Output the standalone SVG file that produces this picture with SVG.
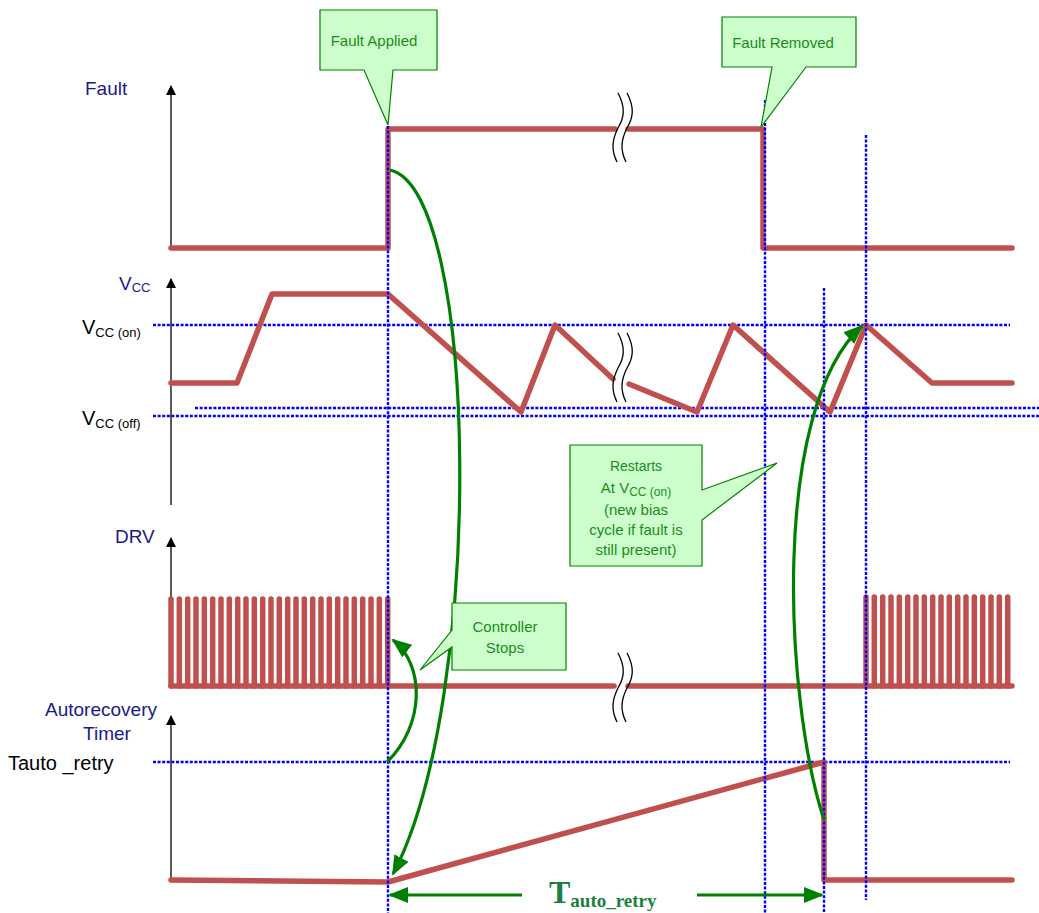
<svg xmlns="http://www.w3.org/2000/svg" width="1039" height="913" viewBox="0 0 1039 913">
<style>
.ax{stroke:#000;stroke-width:1.3;fill:none}
.sig{stroke:#c0504d;stroke-width:5.5;fill:none;stroke-linejoin:round;stroke-linecap:round}
.dot{stroke:#0000ff;stroke-width:2.4;stroke-dasharray:3,1.6;fill:none}
.gr{stroke:#008000;stroke-width:3.2;fill:none}
.brk{stroke:#000;stroke-width:1.3;fill:none}
.co{fill:#ccffcc;stroke:#008000;stroke-width:1.2}
.ct{font-family:"Liberation Sans",Arial,sans-serif;fill:#1a8c1a;text-anchor:middle}
.lb{font-family:"Liberation Sans",Arial,sans-serif;fill:#1a1a8c;font-size:19px}
.bk{font-family:"Liberation Sans",Arial,sans-serif;fill:#000;font-size:20px}
</style>
<defs>
<marker id="ah" markerWidth="10" markerHeight="10" refX="9" refY="5" orient="auto" markerUnits="userSpaceOnUse">
<path d="M0,0 L10,5 L0,10 z" fill="#000"/>
</marker>
<marker id="gah" markerWidth="20" markerHeight="16" refX="18" refY="8" orient="auto" markerUnits="userSpaceOnUse">
<path d="M0,0 L20,8 L0,16 z" fill="#008000"/>
</marker>
</defs>
<rect width="1039" height="913" fill="#fff"/>

<g id="axes">
<line class="ax" x1="171" y1="250" x2="171" y2="86" marker-end="url(#ah)"/>
<line class="ax" x1="171" y1="505" x2="171" y2="279" marker-end="url(#ah)"/>
<line class="ax" x1="171" y1="686" x2="171" y2="538" marker-end="url(#ah)"/>
<line class="ax" x1="171" y1="880" x2="171" y2="716" marker-end="url(#ah)"/>
</g>

<g id="labels">
<text class="lb" x="85" y="95">Fault</text>
<text class="lb" x="119" y="290">V<tspan font-size="13" dy="2">CC</tspan></text>
<text class="bk" x="82" y="334">V<tspan font-size="13" dy="3">CC (on)</tspan></text>
<text class="bk" x="82" y="425">V<tspan font-size="13" dy="3">CC (off)</tspan></text>
<text class="lb" x="115" y="543">DRV</text>
<text class="lb" x="101" y="716" text-anchor="middle">Autorecovery</text>
<text class="lb" x="107" y="740" text-anchor="middle">Timer</text>
<text class="bk" x="8" y="770">Tauto _retry</text>
</g>

<g id="guides">
<line class="dot" x1="153" y1="325" x2="1010" y2="325"/>
<line class="dot" x1="153" y1="416" x2="1039" y2="416"/>
<line class="dot" x1="195" y1="408" x2="1039" y2="408"/>
<line class="dot" x1="153" y1="762" x2="1010" y2="762"/>
</g>

<g id="signals">
<path class="sig" d="M171,248 H388 V129 H615 M628,129 H763 V248 H1012"/>
<path class="sig" d="M171,383 H237 L272,294 H388 L521,412 L555,325 L613,379 M629,384 L697,412 L733,325 L830,412 L866,325 L932,383 H1012"/>
<path class="sig" stroke-width="5.5" d="M171,686 V599 M179.3,686 V599 M187.7,686 V599 M196,686 V599 M204.3,686 V599 M212.7,686 V599 M221,686 V599 M229.3,686 V599 M237.7,686 V599 M246,686 V599 M254.3,686 V599 M262.7,686 V599 M271,686 V599 M279.3,686 V599 M287.7,686 V599 M296,686 V599 M304.3,686 V599 M312.7,686 V599 M321,686 V599 M329.3,686 V599 M337.7,686 V599 M346,686 V599 M354.3,686 V599 M362.7,686 V599 M371,686 V599 M379.3,686 V599 M387.7,686 V599"/>
<path class="sig" d="M171,686 H614 M628,686 H1012"/>
<path class="sig" stroke-width="5.5" d="M866,686 V597 M874.3,686 V597 M882.7,686 V597 M891,686 V597 M899.3,686 V597 M907.7,686 V597 M916,686 V597 M924.3,686 V597 M932.7,686 V597 M941,686 V597 M949.3,686 V597 M957.7,686 V597 M966,686 V597 M974.3,686 V597 M982.7,686 V597 M991,686 V597 M999.3,686 V597 M1007.7,686 V597"/>
<path class="sig" d="M171,880 L388,882 L824,762 V880 H1012"/>
</g>

<g id="vguides">
<line class="dot" x1="388" y1="126" x2="388" y2="913"/>
<line class="dot" x1="765" y1="100" x2="765" y2="913"/>
<line class="dot" x1="824" y1="288" x2="824" y2="913"/>
<line class="dot" x1="866" y1="135" x2="866" y2="900"/>
</g>

<g id="breaks">
<path class="brk" d="M618,93 C626,108 624,118 618,128 C612,140 611,150 617,162"/>
<path class="brk" d="M627,93 C635,108 633,118 627,128 C621,140 620,150 626,162"/>
<path class="brk" d="M618,333 C626,348 624,358 618,368 C612,380 611,390 617,402"/>
<path class="brk" d="M627,333 C635,348 633,358 627,368 C621,380 620,390 626,402"/>
<path class="brk" d="M618,653 C626,668 624,678 618,688 C612,700 611,710 617,722"/>
<path class="brk" d="M627,653 C635,668 633,678 627,688 C621,700 620,710 626,722"/>
</g>

<g id="connectors">
<path class="gr" d="M390,170 C480,190 485,700 393,874" marker-end="url(#gah)"/>
<path class="gr" d="M387,762 C425,725 425,665 393,640" marker-end="url(#gah)"/>
<path class="gr" d="M824,820 C785,700 770,410 862,326" marker-end="url(#gah)"/>
<line class="gr" x1="522" y1="895" x2="390" y2="895" marker-end="url(#gah)"/>
<line class="gr" x1="697" y1="895" x2="822" y2="895" marker-end="url(#gah)"/>
<text x="549" y="903" font-family="Liberation Serif,'Times New Roman',serif" font-weight="bold" font-size="32" fill="#1a8040">T<tspan font-size="19" dy="4">auto_retry</tspan></text>
</g>

<g id="fault-applied">
<path class="co" d="M320,10 H437 V70 H393 L388,125 L364,70 H320 Z"/>
<text class="ct" x="374" y="46" font-size="15">Fault Applied</text>
</g>

<g id="fault-removed">
<path class="co" d="M722,17 H856 V67 H806 L761,127 L772,67 H722 Z"/>
<text class="ct" x="783" y="48" font-size="15">Fault Removed</text>
</g>

<g id="restarts">
<path class="co" d="M570,445 H702 V490 L777,463 L702,520 V566 H570 Z"/>
<text class="ct" x="636" y="471" font-size="14">Restarts</text>
<text class="ct" x="636" y="493" font-size="15">At V<tspan font-size="12" dy="3">CC (on)</tspan></text>
<text class="ct" x="636" y="515" font-size="15">(new bias</text>
<text class="ct" x="636" y="535" font-size="15">cycle if fault is</text>
<text class="ct" x="636" y="555" font-size="15">still present)</text>
</g>

<g id="controller-stops">
<path class="co" d="M452,603 H566 V670 H452 V647 L420,670 L452,630 Z"/>
<text class="ct" x="505" y="632" font-size="15">Controller</text>
<text class="ct" x="505" y="653" font-size="15">Stops</text>
</g>
</svg>
